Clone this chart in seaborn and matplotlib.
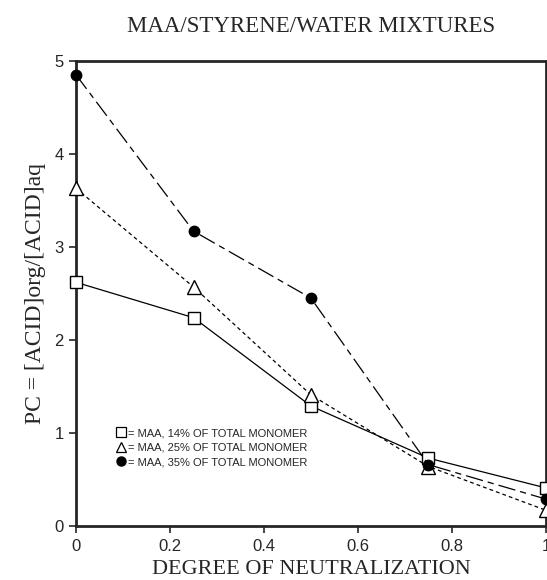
import matplotlib
matplotlib.use("Agg")
import matplotlib.pyplot as plt
from matplotlib.lines import Line2D
import seaborn as sns
import pandas as pd

# Degree of neutralization and partition coefficients for three MAA loadings
neutralization = [0.0, 0.25, 0.5, 0.75, 1.0]
pc_maa14 = [2.62, 2.24, 1.29, 0.73, 0.41]
pc_maa25 = [3.63, 2.57, 1.41, 0.64, 0.17]
pc_maa35 = [4.85, 3.17, 2.45, 0.66, 0.29]
series_labels = [
    "= MAA, 14% OF TOTAL MONOMER",
    "= MAA, 25% OF TOTAL MONOMER",
    "= MAA, 35% OF TOTAL MONOMER",
]
x_ticks = [0, 0.2, 0.4, 0.6, 0.8, 1]
x_tick_labels = ["0", "0.2", "0.4", "0.6", "0.8", "1"]
y_ticks = [0, 1, 2, 3, 4, 5]

sns.set_style("ticks")
plt.rcParams["font.family"] = ["Liberation Sans", "DejaVu Sans"]

fig = plt.figure(figsize=(5.47, 5.80), dpi=100)
ax = fig.add_axes([0.139, 0.093, 0.859, 0.802])

df = pd.DataFrame({
    "x": neutralization * 3,
    "pc": pc_maa14 + pc_maa25 + pc_maa35,
    "series": [series_labels[0]] * 5 + [series_labels[1]] * 5 + [series_labels[2]] * 5,
})

styles = [
    dict(marker="s", mfc="white", ms=9, dashes=None),
    dict(marker="^", mfc="white", ms=10, dashes=(3, 2.5)),
    dict(marker="o", mfc="black", ms=7.5, dashes=(14, 4, 5, 4)),
]

for label, st in zip(series_labels, styles):
    sub = df[df["series"] == label]
    sns.lineplot(data=sub, x="x", y="pc", ax=ax, color="black", lw=0.9,
                 marker=st["marker"], markersize=st["ms"],
                 markerfacecolor=st["mfc"], markeredgecolor="black",
                 markeredgewidth=1.0, legend=False, clip_on=False, zorder=3)
    line = ax.lines[-1]
    if st["dashes"] is not None:
        line.set_dashes(st["dashes"])

ax.set_xlim(0, 1)
ax.set_ylim(0, 5)
ax.set_xticks(x_ticks)
ax.set_xticklabels(x_tick_labels)
ax.set_yticks(y_ticks)
ax.tick_params(direction="out", length=5, width=1.2, labelsize=12, pad=4)
for sp in ax.spines.values():
    sp.set_visible(True)
    sp.set_linewidth(2.0)

serif = ["Liberation Serif", "DejaVu Serif"]
ax.set_xlabel("DEGREE OF NEUTRALIZATION", family=serif, fontsize=16, va="center")
ax.xaxis.set_label_coords(0.5, -0.094)
ax.set_ylabel("PC = [ACID]org/[ACID]aq", family=serif, fontsize=17, labelpad=6)
fig.text(0.569, 0.955, "MAA/STYRENE/WATER MIXTURES", family=serif, fontsize=16.5,
         ha="center", va="center")

handles = [
    Line2D([], [], ls="none", marker="s", mfc="white", mec="black", ms=6.5, mew=0.9),
    Line2D([], [], ls="none", marker="^", mfc="white", mec="black", ms=7, mew=0.9),
    Line2D([], [], ls="none", marker="o", mfc="black", mec="black", ms=6.5),
]
ax.legend(handles, series_labels, loc="lower left", bbox_to_anchor=(0.075, 0.115),
          frameon=False, fontsize=8, handlelength=0.8, handletextpad=0.2,
          labelspacing=0.4, borderpad=0)

fig.savefig("out.png", dpi=100)
